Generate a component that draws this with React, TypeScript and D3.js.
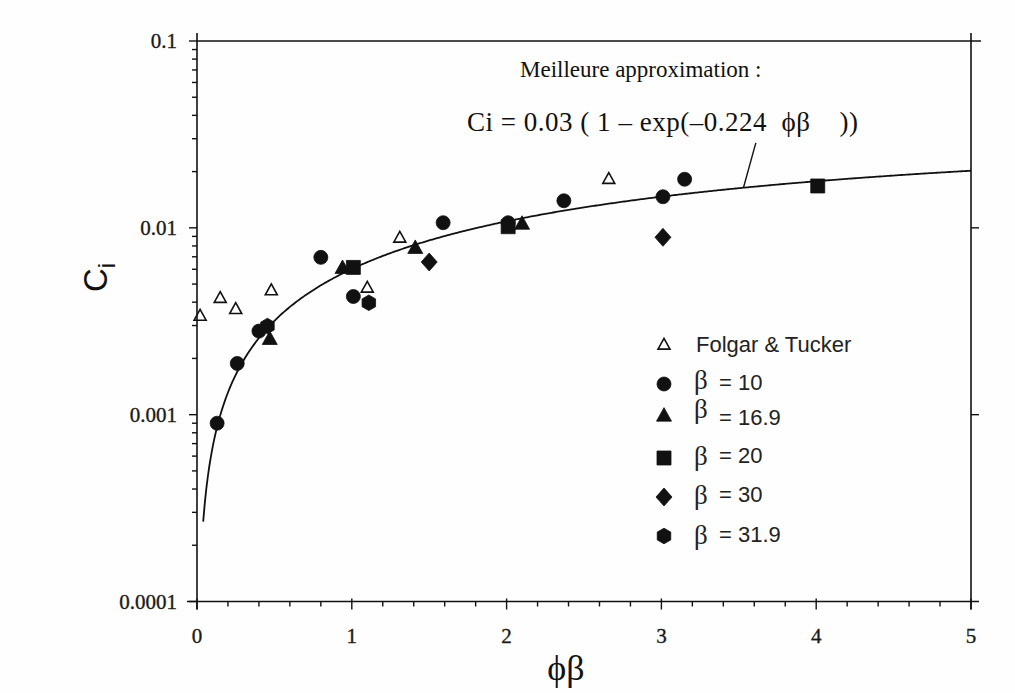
import React from "react";
import * as d3 from "d3";

// ---- data ----
const folgarX = [0.02, 0.15, 0.25, 0.48, 1.10, 1.31, 2.66];
const folgarY = [0.00337, 0.0042, 0.00366, 0.00461, 0.00476, 0.00882, 0.0182];

const beta10X = [0.13, 0.26, 0.40, 0.80, 1.01, 1.59, 2.01, 2.37, 3.01, 3.15];
const beta10Y = [0.0009, 0.00188, 0.0028, 0.00695, 0.00429, 0.01065, 0.01065, 0.01396, 0.01467, 0.0182];

const beta169X = [0.47, 0.94, 1.41, 2.10];
const beta169Y = [0.00253, 0.00607, 0.00777, 0.01047];

const beta20X = [1.01, 2.01, 4.01];
const beta20Y = [0.00614, 0.01014, 0.01675];

const beta30X = [1.50, 3.01];
const beta30Y = [0.00656, 0.0089];

const beta319X = [0.455, 1.11];
const beta319Y = [0.00298, 0.00397];

const xTicks = [0, 1, 2, 3, 4, 5];
const yTicks = [0.0001, 0.001, 0.01, 0.1];
const yTickLabels = ["0.0001", "0.001", "0.01", "0.1"];

const fitA = 0.03;
const fitK = 0.224;
const fitStart = 0.04;
const leaderFrom = 3.53;
const leaderTo = [3.61, 0.0285];

const legendLabels = ["Folgar & Tucker", "= 10", "= 16.9", "= 20", "= 30", "= 31.9"];
const legendSymbols = ["openTri", "circle", "tri", "square", "diamond", "hex"];

const SERIF = "'Liberation Serif', 'Times New Roman', serif";
const SANS = "'Liberation Sans', Arial, sans-serif";
const INK = "#111";

function symbolPath(kind: string, cx: number, cy: number): string {
  const p = d3.path();
  if (kind === "circle") {
    p.arc(cx, cy, 7, 0, 2 * Math.PI);
  } else if (kind === "tri" || kind === "openTri") {
    const w = kind === "tri" ? 15 : 12;
    const h = w * 0.9;
    p.moveTo(cx, cy - h * 0.62);
    p.lineTo(cx + w / 2, cy + h * 0.38);
    p.lineTo(cx - w / 2, cy + h * 0.38);
    p.closePath();
  } else if (kind === "square") {
    p.rect(cx - 7, cy - 7, 14, 14);
  } else if (kind === "diamond") {
    p.moveTo(cx, cy - 9);
    p.lineTo(cx + 8, cy);
    p.lineTo(cx, cy + 9);
    p.lineTo(cx - 8, cy);
    p.closePath();
  } else if (kind === "hex") {
    for (let i = 0; i < 6; i++) {
      const a = (Math.PI / 3) * i + Math.PI / 6;
      const px = cx + 7.8 * Math.cos(a);
      const py = cy + 7.8 * Math.sin(a);
      if (i === 0) p.moveTo(px, py);
      else p.lineTo(px, py);
    }
    p.closePath();
  }
  return p.toString();
}

function Marker({ kind, cx, cy }: { kind: string; cx: number; cy: number }) {
  const open = kind === "openTri";
  return (
    <path
      d={symbolPath(kind, cx, cy)}
      fill={open ? "none" : INK}
      stroke={INK}
      strokeWidth={open ? 1.6 : 0.8}
      strokeLinejoin="miter"
    />
  );
}

export default function App() {
  const x = d3.scaleLinear().domain([0, 5]).range([197, 971]);
  const y = d3.scaleLog().domain([0.0001, 0.1]).range([601.5, 41]);
  const left = x(0), right = x(5), top = y(0.1), bottom = y(0.0001);
  const ext = 8;

  const fit = (v: number) => fitA * (1 - Math.exp(-fitK * v));
  const curveXs = d3.range(fitStart, 5.0001, 0.01);
  const line = d3
    .line<number>()
    .x((d) => x(d))
    .y((d) => y(fit(d)))
    .curve(d3.curveLinear);

  const minorY: number[] = [];
  for (const dec of [0.0001, 0.001, 0.01]) {
    for (let k = 2; k <= 9; k++) minorY.push(dec * k);
  }
  const minorX = d3.range(0, 5.0001, 0.2).filter((v) => Math.abs(v - Math.round(v)) > 1e-6);

  const series: { xs: number[]; ys: number[]; kind: string }[] = [
    { xs: folgarX, ys: folgarY, kind: "openTri" },
    { xs: beta10X, ys: beta10Y, kind: "circle" },
    { xs: beta169X, ys: beta169Y, kind: "tri" },
    { xs: beta20X, ys: beta20Y, kind: "square" },
    { xs: beta30X, ys: beta30Y, kind: "diamond" },
    { xs: beta319X, ys: beta319Y, kind: "hex" },
  ];

  const legendSymbolY = [345, 384, 416, 458, 497, 536];
  const legendTextY = [352, 390, 425, 463, 502, 542];
  const legendBetaY = [0, 389, 418, 465, 504, 544];

  return (
    <svg
      width={1015}
      height={693}
      style={{ position: "absolute", left: 0, top: 0, background: "#fdfefd" }}
    >
      <rect x={0} y={0} width={1015} height={693} fill="#fdfefd" />
      {/* frame */}
      <g stroke={INK} strokeWidth={1.6} fill="none">
        <line x1={left} x2={left} y1={top - ext} y2={bottom + ext} />
        <line x1={right} x2={right} y1={top - ext} y2={bottom + ext} />
        <line x1={left} x2={right + ext + 2} y1={top} y2={top} />
        <line x1={left - ext - 2} x2={right + ext} y1={bottom} y2={bottom} />
      </g>
      {/* ticks */}
      <g stroke={INK} strokeWidth={1.4}>
        {yTicks.map((t) => (
          <line key={"ly" + t} x1={left - 8} x2={left} y1={y(t)} y2={y(t)} />
        ))}
        {minorY.map((t) => (
          <line key={"lm" + t} x1={left - 5} x2={left} y1={y(t)} y2={y(t)} />
        ))}
        {[0.001, 0.01].map((t) => (
          <line key={"ry" + t} x1={right} x2={right + 8} y1={y(t)} y2={y(t)} />
        ))}
        {xTicks.map((t) => (
          <line key={"bx" + t} x1={x(t)} x2={x(t)} y1={bottom - 3} y2={bottom + 8} />
        ))}
        {minorX.map((t) => (
          <line key={"bm" + t} x1={x(t)} x2={x(t)} y1={bottom} y2={bottom + 5} />
        ))}
      </g>
      {/* tick labels */}
      <g fontFamily={SERIF} fontSize={21} fill="#1a1a1a" stroke="#1a1a1a" strokeWidth={0.35}>
        {yTicks.map((t, i) => (
          <text key={"yl" + t} x={left - 20} y={y(t) + 7} textAnchor="end">
            {yTickLabels[i]}
          </text>
        ))}
        {xTicks.map((t) => (
          <text key={"xl" + t} x={x(t)} y={643} textAnchor="middle">
            {String(t)}
          </text>
        ))}
      </g>
      {/* axis titles */}
      <text x={566} y={680} textAnchor="middle" fontFamily={SERIF} fontSize={36} fill={INK}>
        {"\u03D5\u03B2"}
      </text>
      <text
        transform="translate(107,292) rotate(-90)"
        fontFamily={SANS}
        fontSize={33}
        fill={INK}
      >
        C<tspan fontSize={24} dy={8}>i</tspan>
      </text>
      {/* fit curve */}
      <path d={line(curveXs) || ""} fill="none" stroke={INK} strokeWidth={1.8} />
      {/* leader line */}
      <line
        x1={x(leaderFrom)}
        y1={y(fit(leaderFrom))}
        x2={x(leaderTo[0])}
        y2={y(leaderTo[1])}
        stroke={INK}
        strokeWidth={1.4}
      />
      {/* annotations */}
      <text x={520} y={77} fontFamily={SERIF} fontSize={23} fill={INK}>
        Meilleure approximation :
      </text>
      <text
        x={467}
        y={131}
        fontFamily={SERIF}
        fontSize={27}
        fill={INK}
        xmlSpace="preserve"
        textLength={391}
        lengthAdjust="spacing"
      >
        {"Ci = 0.03 ( 1 \u2013 exp(\u20130.224  \u03D5\u03B2    ))"}
      </text>
      {/* data */}
      {series.map((s, si) =>
        s.xs.map((v, i) => (
          <Marker key={si + "-" + i} kind={s.kind} cx={x(v)} cy={y(s.ys[i])} />
        ))
      )}
      {/* legend */}
      {legendLabels.map((lab, i) => (
        <g key={"lg" + i}>
          <Marker kind={legendSymbols[i]} cx={664} cy={legendSymbolY[i]} />
          {i === 0 ? (
            <text x={696} y={legendTextY[i]} fontFamily={SANS} fontSize={22} fill="#222">
              {lab}
            </text>
          ) : (
            <>
              <text x={694} y={legendBetaY[i]} fontFamily={SERIF} fontSize={27} fill="#222">
                β
              </text>
              <text x={719} y={legendTextY[i]} fontFamily={SANS} fontSize={22} fill="#222">
                {lab}
              </text>
            </>
          )}
        </g>
      ))}
    </svg>
  );
}
